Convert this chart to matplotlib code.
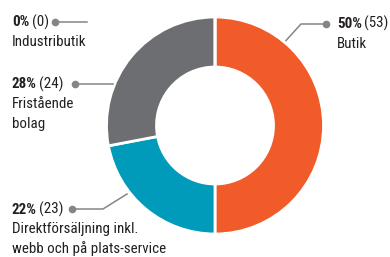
import matplotlib
matplotlib.use("Agg")
import matplotlib.pyplot as plt
from matplotlib import font_manager

names = {f.name for f in font_manager.fontManager.ttflist}
FONT = "Roboto Condensed" if "Roboto Condensed" in names else "Liberation Sans"

categories = ["Butik", "Direktförsäljning inkl.\nwebb och på plats-service", "Fristående\nbolag", "Industributik"]
percents = [50, 22, 28, 0]
counts = [53, 23, 24, 0]
colors = ["#F15A29", "#009BBB", "#6D6E71", "#B0B0B0"]

W, H = 390, 257
fig = plt.figure(figsize=(W / 100, H / 100), dpi=100)
ax = fig.add_axes([0, 0, 1, 1])
ax.pie(percents, colors=colors, startangle=90, counterclock=False,
       center=(215, H - 125.5), radius=108.5, frame=True,
       wedgeprops=dict(width=50, edgecolor="white", linewidth=2))
ax.set_xlim(0, W)
ax.set_ylim(0, H)
ax.set_aspect("equal")
ax.axis("off")

renderer = fig.canvas.get_renderer()
fs = 10.8
lh = 19.7
lc = "#858585"
tc = "#231F20"

def label(x, y, pct, cnt, name):
    t = ax.text(x, H - y, f"{pct}%", fontsize=fs, fontweight="bold", family=FONT,
                color=tc, va="baseline", ha="left")
    bb = t.get_window_extent(renderer)
    x2 = bb.x1 + 2.5
    ax.text(x2, H - y, f"({cnt})", fontsize=fs, family=FONT, color=tc,
            va="baseline", ha="left")
    for i, line in enumerate(name.split("\n")):
        ax.text(x, H - y - lh * (i + 1), line, fontsize=fs, family=FONT,
                color=tc, va="baseline", ha="left")

def leader(pts):
    xs = [p[0] for p in pts]
    ys = [H - p[1] for p in pts]
    ax.plot(xs, ys, color=lc, lw=1.1)
    ax.plot(xs[0], ys[0], "o", color=lc, ms=4.5)

# Industributik
label(12, 26.5, percents[3], counts[3], categories[3])
leader([(55, 21.5), (87, 21.5)])
# Fristående
label(12, 88.5, percents[2], counts[2], categories[2])
leader([(75, 84), (113, 84)])
# Butik
label(337, 28, percents[0], counts[0], categories[0])
leader([(326, 24), (301, 24), (286, 40.5)])
# Direkt
label(12, 213.5, percents[1], counts[1], categories[1])
leader([(72, 209), (103, 209), (127, 194)])

fig.savefig("out.png", dpi=100)
